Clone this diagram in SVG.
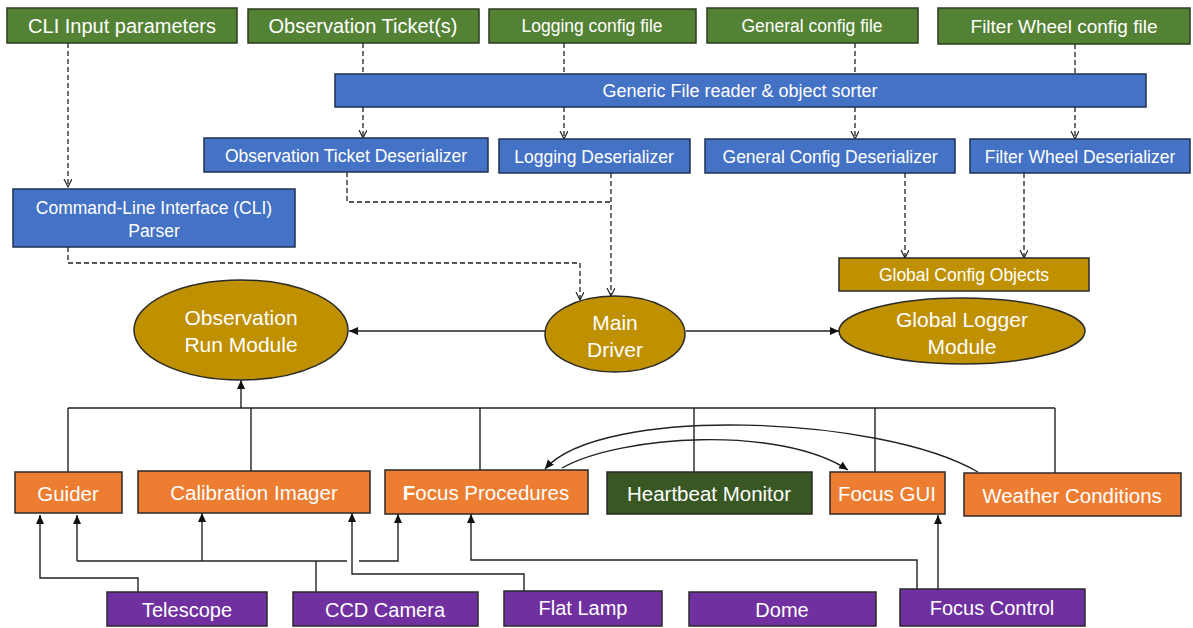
<svg xmlns="http://www.w3.org/2000/svg" width="1193" height="628" viewBox="0 0 1193 628">
<style>
  .g { fill: #548235; stroke: #2b3b1f; stroke-width: 1.5; }
  .b { fill: #4472C4; stroke: #1f3050; stroke-width: 1.5; }
  .y { fill: #BF9000; stroke: #2a2a2a; stroke-width: 1.5; }
  .o { fill: #ED7D31; stroke: #2a2a2a; stroke-width: 1.5; }
  .h { fill: #385723; stroke: #2a2a2a; stroke-width: 1.5; }
  .p { fill: #7030A0; stroke: #2a2a2a; stroke-width: 1.5; }
  text { fill: #ffffff; font-family: "Liberation Sans", Arial, sans-serif; text-anchor: middle; dominant-baseline: central; }
  .t20 { font-size: 20px; }
  .t19 { font-size: 19px; }
  .t175 { font-size: 17.5px; }
  .t18 { font-size: 18px; }
  .t21 { font-size: 21px; }
  .t205 { font-size: 20.5px; }
  .dash { fill: none; stroke: #222; stroke-width: 1.3; stroke-dasharray: 5 3; }
  .solid { fill: none; stroke: #222; stroke-width: 1.4; }
</style>
<defs>
  <marker id="open" markerUnits="userSpaceOnUse" markerWidth="10" markerHeight="10" refX="8" refY="4" orient="auto">
    <path d="M0,0 L8,4 L0,8" fill="none" stroke="#222" stroke-width="1.2"/>
  </marker>
  <marker id="fill" markerUnits="userSpaceOnUse" markerWidth="10" markerHeight="10" refX="9" refY="4" orient="auto">
    <path d="M0,0 L9,4 L0,8 z" fill="#111"/>
  </marker>
</defs>

<g id="connectors">
  <path class="dash" d="M68 43 V187" marker-end="url(#open)"/>
  <path class="dash" d="M363 43 V74"/>
  <path class="dash" d="M363 107 V138" marker-end="url(#open)"/>
  <path class="dash" d="M564 43 V74"/>
  <path class="dash" d="M564 107 V139" marker-end="url(#open)"/>
  <path class="dash" d="M855 43 V74"/>
  <path class="dash" d="M855 107 V139" marker-end="url(#open)"/>
  <path class="dash" d="M1075 44 V74"/>
  <path class="dash" d="M1075 107 V139" marker-end="url(#open)"/>
  <path class="dash" d="M347 172 V202 H611"/>
  <path class="dash" d="M611 173 V296" marker-end="url(#open)"/>
  <path class="dash" d="M68 247 V263 H580 V300" marker-end="url(#open)"/>
  <path class="dash" d="M905 173 V258" marker-end="url(#open)"/>
  <path class="dash" d="M1024 173 V258" marker-end="url(#open)"/>

  <path class="solid" d="M545 331 H349" marker-end="url(#fill)"/>
  <path class="solid" d="M686 331 H839" marker-end="url(#fill)"/>

  <path class="solid" d="M68 408 H1055"/>
  <path class="solid" d="M68 408 V472"/>
  <path class="solid" d="M251 408 V471"/>
  <path class="solid" d="M480 408 V470"/>
  <path class="solid" d="M694 408 V472"/>
  <path class="solid" d="M875 408 V472"/>
  <path class="solid" d="M1055 408 V473"/>
  <path class="solid" d="M241 408 V380" marker-end="url(#fill)"/>

  <path class="solid" d="M562 468 C 620 435, 780 425, 848 470" marker-end="url(#fill)"/>
  <path class="solid" d="M978 472 C 880 415, 600 405, 545 469" marker-end="url(#fill)"/>

  <path class="solid" d="M138 592 V578 H40 V515" marker-end="url(#fill)"/>
  <path class="solid" d="M316 592 V561"/>
  <path class="solid" d="M77 561 H347"/>
  <path class="solid" d="M359 561 H398 V514" marker-end="url(#fill)"/>
  <path class="solid" d="M77 561 V515" marker-end="url(#fill)"/>
  <path class="solid" d="M202 561 V513" marker-end="url(#fill)"/>
  <path class="solid" d="M524 591 V574 H352 V513" marker-end="url(#fill)"/>
  <path class="solid" d="M917 589 V560 H471 V514" marker-end="url(#fill)"/>
  <path class="solid" d="M938 589 V515" marker-end="url(#fill)"/>
</g>

<g id="cli-input"><rect class="g" x="7" y="8" width="230" height="35"/><text class="t20" x="122" y="26">CLI Input parameters</text></g>
<g id="obs-ticket"><rect class="g" x="248" y="9" width="231" height="34"/><text class="t20" x="363" y="26">Observation Ticket(s)</text></g>
<g id="logging-config"><rect class="g" x="489" y="9" width="207" height="34"/><text class="t175" x="592" y="26">Logging config file</text></g>
<g id="general-config"><rect class="g" x="707" y="8" width="211" height="35"/><text class="t175" x="812" y="26">General config file</text></g>
<g id="filter-config"><rect class="g" x="938" y="8" width="252" height="36"/><text class="t19" x="1064" y="26">Filter Wheel config file</text></g>

<g id="generic-reader"><rect class="b" x="335" y="74" width="811" height="33"/><text class="t18" x="740" y="91">Generic File reader &amp; object sorter</text></g>

<g id="obs-deser"><rect class="b" x="204" y="138" width="284" height="34"/><text class="t175" x="346" y="156">Observation Ticket Deserializer</text></g>
<g id="logging-deser"><rect class="b" x="499" y="139" width="191" height="34"/><text class="t175" x="594" y="157">Logging Deserializer</text></g>
<g id="general-deser"><rect class="b" x="705" y="139" width="250" height="34"/><text class="t175" x="830" y="157">General Config Deserializer</text></g>
<g id="filter-deser"><rect class="b" x="970" y="139" width="220" height="34"/><text class="t175" x="1080" y="157">Filter Wheel Deserializer</text></g>

<g id="cli-parser"><rect class="b" x="13" y="189" width="282" height="58"/><text class="t175" x="154" y="208">Command-Line Interface (CLI)</text><text class="t175" x="154" y="231">Parser</text></g>

<g id="global-config"><rect class="y" x="839" y="258" width="250" height="33"/><text class="t175" x="964" y="275">Global Config Objects</text></g>

<g id="obs-run"><ellipse class="y" cx="241" cy="330" rx="107" ry="50"/><text class="t21" x="241" y="317">Observation</text><text class="t21" x="241" y="344">Run Module</text></g>
<g id="main-driver"><ellipse class="y" cx="615" cy="334" rx="70" ry="38"/><text class="t21" x="615" y="322">Main</text><text class="t21" x="615" y="349">Driver</text></g>
<g id="global-logger"><ellipse class="y" cx="962" cy="331" rx="123" ry="33"/><text class="t21" x="962" y="319">Global Logger</text><text class="t21" x="962" y="346">Module</text></g>

<g id="guider"><rect class="o" x="15" y="472" width="107" height="41"/><text class="t205" x="68" y="493">Guider</text></g>
<g id="calibration"><rect class="o" x="138" y="471" width="232" height="42"/><text class="t205" x="254" y="492">Calibration Imager</text></g>
<g id="focus-procedures"><rect class="o" x="385" y="470" width="203" height="44"/><text class="t205" x="486" y="492"><tspan font-weight="bold">F</tspan>ocus Procedures</text></g>
<g id="heartbeat"><rect class="h" x="607" y="472" width="205" height="42"/><text class="t205" x="709" y="493">Heartbeat Monitor</text></g>
<g id="focus-gui"><rect class="o" x="830" y="472" width="115" height="42"/><text class="t205" x="887" y="493">Focus GUI</text></g>
<g id="weather"><rect class="o" x="964" y="473" width="217" height="43"/><text class="t205" x="1072" y="495">Weather Conditions</text></g>

<g id="telescope"><rect class="p" x="107" y="592" width="160" height="34"/><text class="t20" x="187" y="610">Telescope</text></g>
<g id="ccd"><rect class="p" x="293" y="592" width="185" height="34"/><text class="t20" x="385" y="610">CCD Camera</text></g>
<g id="flat-lamp"><rect class="p" x="504" y="591" width="158" height="35"/><text class="t20" x="583" y="608">Flat Lamp</text></g>
<g id="dome"><rect class="p" x="689" y="592" width="187" height="34"/><text class="t20" x="782" y="610">Dome</text></g>
<g id="focus-control"><rect class="p" x="900" y="589" width="185" height="37"/><text class="t20" x="992" y="608">Focus Control</text></g>
</svg>
